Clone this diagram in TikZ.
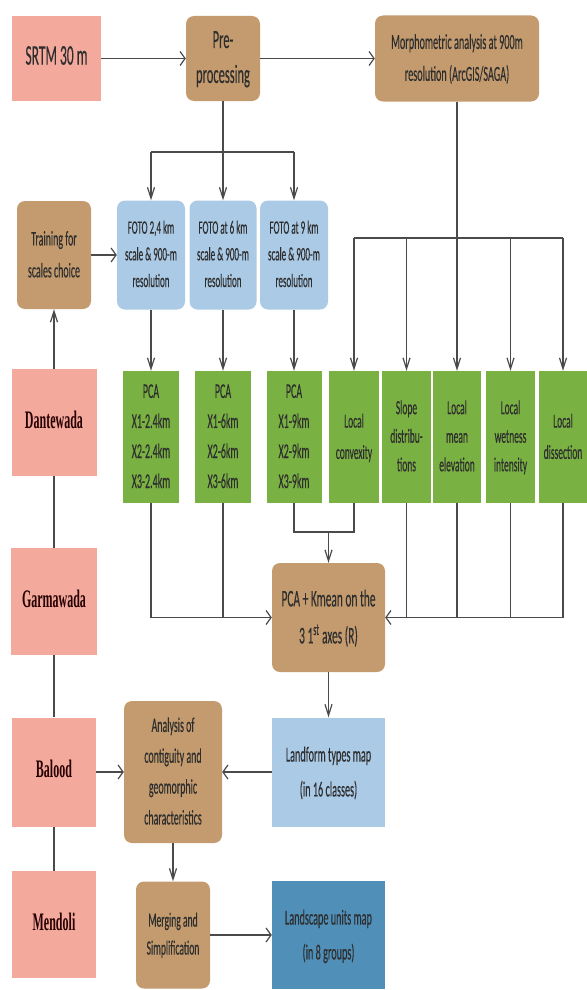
\documentclass[tikz,border=0pt]{standalone}
\usepackage{graphicx}
\usepackage{fontspec}
\setmainfont{Carlito}[FakeBold=0.4]
\newfontfamily\districtfont{Liberation Serif}
\usetikzlibrary{arrows.meta, positioning}
\definecolor{srcpink}{HTML}{F4A99D}
\definecolor{procbrown}{HTML}{C49B6E}
\definecolor{fotoblue}{HTML}{AACAE6}
\definecolor{metricgreen}{HTML}{7AB143}
\definecolor{unitblue}{HTML}{4F8FB8}
\definecolor{linegray}{HTML}{4A4A4A}
\definecolor{txtgray}{HTML}{2E2E2E}
\newcommand{\vtxt}[2]{\scalebox{1}[2.1]{#1\begin{tabular}{@{}c@{}}#2\end{tabular}}}
\tikzstyle{source} = [rectangle, fill=srcpink, inner sep=0, text=txtgray]
\tikzstyle{district} = [rectangle, fill=srcpink, inner sep=0, text=black!85!red]
\tikzstyle{process} = [rectangle, rounded corners=8pt, fill=procbrown, inner sep=0, text=txtgray]
\tikzstyle{foto} = [rectangle, rounded corners=8pt, fill=fotoblue, inner sep=0, text=txtgray,
                    minimum height=109pt]
\tikzstyle{metric} = [rectangle, fill=metricgreen, inner sep=0, text=txtgray, minimum height=132pt]
\tikzstyle{mapbox} = [rectangle, inner sep=0, text=txtgray, minimum width=113pt]
\tikzstyle{link} = [draw=linegray, line width=1.2pt]
\tikzstyle{harrow} = [link, -{Straight Barb[length=5pt,width=14pt]}]
\tikzstyle{varrow} = [link, -{Straight Barb[length=11pt,width=7pt]}]
\begin{document}
\begin{tikzpicture}[x=1pt, y=-1pt]
\useasboundingbox (0, 0) rectangle (586, 990);

% top row
\node (srtm) [source, minimum width=89pt, minimum height=85pt] at (56.5, 58.5)
  {\vtxt{\fontsize{13.5}{14.5}\selectfont}{SRTM 30 m}};
\node (pre) [process, minimum width=74pt, minimum height=85pt] at (223, 58.5)
  {\vtxt{\fontsize{12.5}{16.6}\selectfont}{Pre-\\processing}};
\node (morph) [process, minimum width=164pt, minimum height=86pt] at (457, 58.5)
  {\vtxt{\fontsize{10.2}{15.2}\selectfont}{Morphometric analysis at 900m\\resolution (ArcGIS/SAGA)}};
\draw [harrow] (srtm) -- (pre);
\draw [harrow] (pre) -- (morph);

% FOTO scales
\node (training) [process, minimum width=74pt, minimum height=108pt] at (54, 255)
  {\vtxt{\fontsize{9.9}{15.2}\selectfont}{Training for\\scales choice}};
\node (foto1) [foto, minimum width=68pt] at (151, 255)
  {\vtxt{\fontsize{9}{12.7}\selectfont}{FOTO 2,4 km\\scale \& 900-m\\resolution}};
\node (foto2) [foto, minimum width=67pt] at (223, 255)
  {\vtxt{\fontsize{9}{12.7}\selectfont}{FOTO at 6 km\\scale \& 900-m\\resolution}};
\node (foto3) [foto, minimum width=68pt] at (294, 255)
  {\vtxt{\fontsize{9}{12.7}\selectfont}{FOTO at 9 km\\scale \& 900-m\\resolution}};
\draw [harrow] (training) -- (foto1);

\coordinate (PreSplit) at (223, 152);
\coordinate (PreLeft) at (151, 152);
\coordinate (PreRight) at (294, 152);
\draw [link] (pre) -- (PreSplit);
\draw [link] (PreLeft) -- (PreRight);
\draw [varrow] (PreLeft) -- (foto1);
\draw [varrow] (PreSplit) -- (foto2);
\draw [varrow] (PreRight) -- (foto3);

% PCA and local variables
\node (pca1) [metric, minimum width=56pt] at (151, 437)
  {\vtxt{\fontsize{10}{14.3}\selectfont}{PCA\\X1-2.4km\\X2-2.4km\\X3-2.4km}};
\node (pca2) [metric, minimum width=56pt] at (223, 437)
  {\vtxt{\fontsize{10}{14.3}\selectfont}{PCA\\X1-6km\\X2-6km\\X3-6km}};
\node (pca3) [metric, minimum width=55pt] at (294, 437)
  {\vtxt{\fontsize{10}{14.3}\selectfont}{PCA\\X1-9km\\X2-9km\\X3-9km}};
\node (convex) [metric, minimum width=50pt] at (354, 437)
  {\vtxt{\fontsize{9.5}{14.9}\selectfont}{Local\\convexity}};
\node (slope) [metric, minimum width=49pt] at (406.5, 437)
  {\vtxt{\fontsize{9.5}{13.6}\selectfont}{Slope\\distribu-\\tions}};
\node (mean) [metric, minimum width=48pt] at (457, 437)
  {\vtxt{\fontsize{9.5}{13.6}\selectfont}{Local\\mean\\elevation}};
\node (wet) [metric, minimum width=49pt] at (510.5, 437)
  {\vtxt{\fontsize{9.5}{13.6}\selectfont}{Local\\wetness\\intensity}};
\node (diss) [metric, minimum width=48pt] at (563, 437)
  {\vtxt{\fontsize{9.5}{14.9}\selectfont}{Local\\dissection}};
\draw [varrow] (foto1) -- (pca1);
\draw [varrow] (foto2) -- (pca2);
\draw [varrow] (foto3) -- (pca3);

\coordinate (MorphSplit) at (457, 238);
\coordinate (MorphLeft) at (354, 238);
\coordinate (MorphRight) at (563, 238);
\draw [link] (morph) -- (MorphSplit);
\draw [link] (MorphLeft) -- (MorphRight);
\draw [varrow] (MorphLeft) -- (convex);
\draw [varrow] (MorphLeft -| slope) -- (slope);
\draw [varrow] (MorphSplit) -- (mean);
\draw [varrow] (MorphLeft -| wet) -- (wet);
\draw [varrow] (MorphRight) -- (diss);

% districts
\node (dante) [district, minimum width=85pt, minimum height=107pt] at (54, 422.5)
  {\vtxt{\districtfont\bfseries\fontsize{12}{14}\selectfont}{Dantewada}};
\node (garma) [district, minimum width=86pt, minimum height=107pt] at (54, 601.5)
  {\vtxt{\districtfont\bfseries\fontsize{12}{14}\selectfont}{Garmawada}};
\node (balood) [district, minimum width=84pt, minimum height=109pt] at (54, 772)
  {\vtxt{\districtfont\bfseries\fontsize{12}{14}\selectfont}{Balood}};
\node (mendoli) [district, minimum width=84pt, minimum height=107pt] at (54, 924.5)
  {\vtxt{\districtfont\bfseries\fontsize{12}{14}\selectfont}{Mendoli}};
\draw [varrow] (dante) -- (training);
\draw [link] (dante) -- (garma);
\draw [link] (garma) -- (balood);
\draw [link] (balood) -- (mendoli);

% clustering
\node (kmean) [process, minimum width=113pt, minimum height=109pt] at (328.5, 617.5)
  {\vtxt{\fontsize{11.4}{17.6}\selectfont}{PCA + Kmean on the\\3 1\textsuperscript{st} axes (R)}};

\coordinate (Pca1Out) at (151, 617.5);
\coordinate (Pca2Out) at (223, 617.5);
\draw [link] (pca1) -- (Pca1Out);
\draw [link] (pca2) -- (Pca2Out);
\draw [harrow] (Pca1Out) -- (kmean);

\coordinate (Pca3Out) at (294, 532);
\coordinate (ConvexOut) at (354, 532);
\coordinate (JoinMid) at (328.5, 532);
\draw [link] (pca3) -- (Pca3Out) -- (ConvexOut) -- (convex);
\draw [varrow] (JoinMid) -- (kmean);

\coordinate (SlopeOut) at (406.5, 617.5);
\coordinate (MeanOut) at (457, 617.5);
\coordinate (WetOut) at (510.5, 617.5);
\coordinate (DissOut) at (563, 617.5);
\draw [link] (slope) -- (SlopeOut);
\draw [link] (mean) -- (MeanOut);
\draw [link] (wet) -- (WetOut);
\draw [link] (diss) -- (DissOut);
\draw [harrow] (DissOut) -- (kmean);

% maps
\node (landform) [mapbox, fill=fotoblue, minimum height=109pt] at (328.5, 772)
  {\vtxt{\fontsize{10.2}{16.6}\selectfont}{Landform types map\\(in 16 classes)}};
\node (analysis) [process, minimum width=98pt, minimum height=142pt] at (173, 772)
  {\vtxt{\fontsize{9.9}{14.7}\selectfont}{Analysis of\\contiguity and\\geomorphic\\characteristics}};
\node (merging) [process, minimum width=74pt, minimum height=107pt] at (173, 935)
  {\vtxt{\fontsize{9.6}{13.3}\selectfont}{Merging and\\Simplification}};
\node (landscape) [mapbox, fill=unitblue, minimum height=108pt] at (328.5, 935)
  {\vtxt{\fontsize{10.2}{16.6}\selectfont}{Landscape units map\\(in 8 groups)}};
\draw [varrow] (kmean) -- (landform);
\draw [harrow] (landform) -- (analysis);
\draw [harrow] (balood) -- (analysis);
\draw [varrow] (analysis) -- (merging);
\draw [harrow] (merging) -- (landscape);
\end{tikzpicture}
\end{document}
